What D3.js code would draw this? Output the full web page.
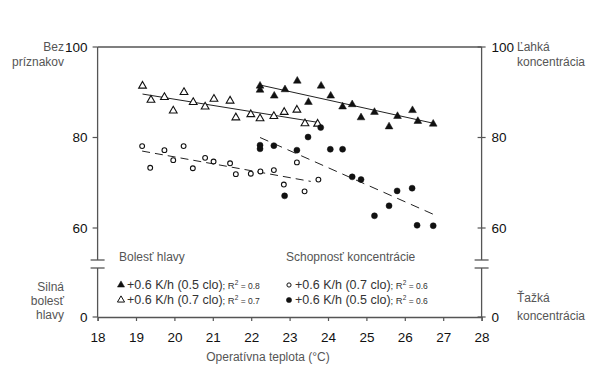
<!DOCTYPE html>
<html>
<head>
<meta charset="utf-8">
<script src="https://cdnjs.cloudflare.com/ajax/libs/d3/7.8.5/d3.min.js"></script>
<style>
  html, body { margin: 0; background: #fff; }
  svg { display: block; font-family: "Liberation Sans", Arial, sans-serif; }
  .tick-label { font-size: 13.5px; fill: #111; }
  .side-label { font-size: 12px; fill: #555; }
</style>
</head>
<body>
<svg id="chart" width="600" height="373"></svg>
<script>
// temperature (°C), score
var headacheFilledT = [22.23, 22.23, 22.60, 22.88, 23.20, 23.49, 23.82, 24.07, 24.38, 24.63, 24.86, 25.21, 25.59, 25.81, 26.20, 26.34, 26.74];
var headacheFilledV = [91.4, 90.5, 89.2, 90.6, 92.5, 87.8, 91.4, 89.2, 86.8, 87.3, 84.4, 85.6, 82.4, 84.7, 86.0, 83.6, 83.0];
var headacheOpenT = [19.17, 19.39, 19.74, 19.97, 20.25, 20.49, 20.80, 21.03, 21.45, 21.60, 21.99, 22.23, 22.59, 22.86, 23.19, 23.40, 23.73];
var headacheOpenV = [91.4, 88.3, 88.9, 85.9, 90.0, 87.8, 86.8, 88.5, 88.1, 84.4, 85.1, 84.2, 84.7, 85.6, 86.1, 83.1, 83.0];
var concOpenT = [19.16, 19.37, 19.74, 19.97, 20.24, 20.48, 20.80, 21.02, 21.45, 21.60, 21.99, 22.24, 22.59, 22.85, 23.19, 23.39, 23.75];
var concOpenV = [78.1, 73.3, 77.2, 75.0, 78.1, 73.2, 75.5, 74.7, 74.3, 71.9, 72.0, 72.5, 72.8, 69.6, 74.5, 68.1, 70.7];
var concFilledT = [22.23, 22.23, 22.59, 22.87, 23.19, 23.48, 23.81, 24.06, 24.38, 24.63, 24.86, 25.21, 25.59, 25.80, 26.19, 26.32, 26.74];
var concFilledV = [78.3, 77.5, 78.2, 67.1, 77.2, 80.1, 82.2, 77.4, 77.4, 71.3, 70.7, 62.7, 64.9, 68.2, 68.8, 60.6, 60.5];

// regression lines [[t0, v0], [t1, v1]]
var fitHeadacheFilled = [[22.23, 91.6], [26.77, 83.1]];
var fitHeadacheOpen = [[19.17, 89.6], [23.77, 83.3]];
var fitConcOpen = [[19.16, 77.0], [23.55, 70.3]];
var fitConcFilled = [[22.23, 80.0], [26.75, 63.0]];

var xTicks = [18, 19, 20, 21, 22, 23, 24, 25, 26, 27, 28];
var yTicks = [60, 80, 100];

var svg = d3.select("#chart");
var plotL = 97.6, plotR = 481.6, plotT = 47, plotB = 317;
var breakTop = 260, breakBot = 268;

var x = d3.scaleLinear().domain([18, 28]).range([plotL, plotR]);
var y = d3.scaleLinear().domain([60, 100]).range([228, plotT]);

var axisColor = "#555";

// top line
svg.append("line").attr("x1", plotL).attr("x2", plotR).attr("y1", plotT).attr("y2", plotT)
    .attr("stroke", axisColor).attr("stroke-width", 1.3);

// x axis
var xAxis = svg.append("g").attr("transform", "translate(0," + plotB + ")")
    .call(d3.axisBottom(x).tickValues(xTicks).tickSize(4).tickFormat(d3.format("d")));
xAxis.attr("font-family", null).attr("font-size", null);
xAxis.select(".domain").attr("stroke", axisColor).attr("stroke-width", 1.3);
xAxis.selectAll(".tick line").attr("stroke", axisColor).attr("stroke-width", 1.2);
xAxis.selectAll(".tick text").attr("class", "tick-label").attr("y", 15).attr("fill", null);

// vertical axes with break
[plotL, plotR].forEach(function(ax) {
    svg.append("line").attr("x1", ax).attr("x2", ax).attr("y1", plotT).attr("y2", breakTop)
        .attr("stroke", axisColor).attr("stroke-width", 1.3);
    svg.append("line").attr("x1", ax).attr("x2", ax).attr("y1", breakBot).attr("y2", plotB)
        .attr("stroke", axisColor).attr("stroke-width", 1.3);
    [breakTop, breakBot].forEach(function(by) {
        svg.append("line").attr("x1", ax - 7).attr("x2", ax + 7).attr("y1", by).attr("y2", by)
            .attr("stroke", axisColor).attr("stroke-width", 1.3);
    });
});

// y ticks
yTicks.concat([0]).forEach(function(v) {
    var py = v === 0 ? plotB : y(v);
    svg.append("line").attr("x1", plotL - 5).attr("x2", plotL).attr("y1", py).attr("y2", py)
        .attr("stroke", axisColor).attr("stroke-width", 1.2);
    svg.append("line").attr("x1", plotR - 4).attr("x2", plotR + 4).attr("y1", py).attr("y2", py)
        .attr("stroke", axisColor).attr("stroke-width", 1.2);
    svg.append("text").attr("class", "tick-label").attr("x", plotL - 10).attr("y", py)
        .attr("dy", "0.35em").attr("text-anchor", "end").text(v);
    svg.append("text").attr("class", "tick-label").attr("x", plotR + 10).attr("y", py)
        .attr("dy", "0.35em").text(v);
});

// side labels
function sideText(lines, xp, anchor, ys) {
    lines.forEach(function(t, i) {
        svg.append("text").attr("class", "side-label").attr("x", xp).attr("y", ys[i])
            .attr("text-anchor", anchor).text(t);
    });
}
sideText(["Bez", "príznakov"], 64, "end", [51, 66]);
sideText(["Silná", "bolesť", "hlavy"], 64, "end", [291, 305, 319]);
sideText(["Ľahká", "koncentrácia"], 517, "start", [51, 66]);
sideText(["Ťažká", "koncentrácia"], 517, "start", [302, 320]);

svg.append("text").attr("class", "side-label").attr("x", 268).attr("y", 361)
    .attr("text-anchor", "middle").text("Operatívna teplota (°C)");

// regression lines
var line = d3.line().x(function(d) { return x(d[0]); }).y(function(d) { return y(d[1]); });
svg.append("path").attr("d", line(fitHeadacheFilled)).attr("fill", "none").attr("stroke", "#222").attr("stroke-width", 1);
svg.append("path").attr("d", line(fitHeadacheOpen)).attr("fill", "none").attr("stroke", "#222").attr("stroke-width", 1);
svg.append("path").attr("d", line(fitConcOpen)).attr("fill", "none").attr("stroke", "#222").attr("stroke-width", 1)
    .attr("stroke-dasharray", "8,5");
svg.append("path").attr("d", line(fitConcFilled)).attr("fill", "none").attr("stroke", "#222").attr("stroke-width", 1)
    .attr("stroke-dasharray", "9,6");

// markers
var tri = d3.symbol().type(d3.symbolTriangle).size(26);
function drawTriangles(ts, vs, filled) {
    svg.append("g").selectAll("path").data(d3.zip(ts, vs)).enter().append("path")
        .attr("d", tri)
        .attr("transform", function(d) { return "translate(" + x(d[0]) + "," + y(d[1]) + ")"; })
        .attr("fill", filled ? "#111" : "#fff")
        .attr("stroke", "#111").attr("stroke-width", filled ? 0.5 : 1.1);
}
function drawCircles(ts, vs, filled) {
    svg.append("g").selectAll("circle").data(d3.zip(ts, vs)).enter().append("circle")
        .attr("cx", function(d) { return x(d[0]); })
        .attr("cy", function(d) { return y(d[1]); })
        .attr("r", filled ? 3 : 2.4)
        .attr("fill", filled ? "#111" : "#fff")
        .attr("stroke", "#111").attr("stroke-width", filled ? 0.5 : 1.1);
}
drawTriangles(headacheOpenT, headacheOpenV, false);
drawTriangles(headacheFilledT, headacheFilledV, true);
drawCircles(concOpenT, concOpenV, false);
drawCircles(concFilledT, concFilledV, true);

// legend
function legendItem(xp, yp, kind, filled, label, r2) {
    if (kind === "tri") {
        svg.append("path").attr("d", d3.symbol().type(d3.symbolTriangle).size(22)())
            .attr("transform", "translate(" + xp + "," + (yp - 4) + ")")
            .attr("fill", filled ? "#111" : "#fff").attr("stroke", "#111").attr("stroke-width", filled ? 0.5 : 1);
    } else {
        svg.append("circle").attr("cx", xp).attr("cy", yp - 4).attr("r", filled ? 2.6 : 2.1)
            .attr("fill", filled ? "#111" : "#fff").attr("stroke", "#111").attr("stroke-width", filled ? 0.5 : 1);
    }
    var t = svg.append("text").attr("x", xp + 6).attr("y", yp).attr("fill", "#333").attr("font-size", "12.5px");
    t.append("tspan").text(label);
    t.append("tspan").attr("font-size", "9.5px").text("; R");
    t.append("tspan").attr("font-size", "6.5px").attr("dy", "-4").text("2");
    t.append("tspan").attr("font-size", "8.5px").attr("dy", "4").text(" = " + r2);
}
svg.append("text").attr("class", "side-label").attr("x", 119).attr("y", 261).text("Bolesť hlavy");
svg.append("text").attr("class", "side-label").attr("x", 286).attr("y", 261).text("Schopnosť koncentrácie");
legendItem(121, 289, "tri", true, "+0.6 K/h (0.5 clo)", "0.8");
legendItem(121, 304, "tri", false, "+0.6 K/h (0.7 clo)", "0.7");
legendItem(289, 289, "circ", false, "+0.6 K/h (0.7 clo)", "0.6");
legendItem(289, 304, "circ", true, "+0.6 K/h (0.5 clo)", "0.6");
</script>
</body>
</html>
